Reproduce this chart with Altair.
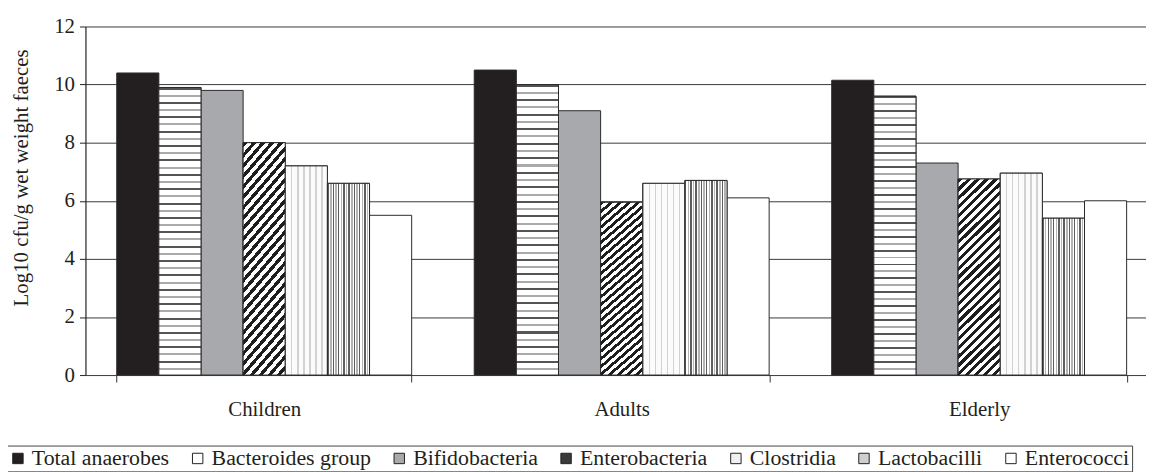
import altair as alt
import pandas as pd

# ---------------- data ----------------
groups = ["Children", "Adults", "Elderly"]
series = ["Total anaerobes", "Bacteroides group", "Bifidobacteria",
          "Enterobacteria", "Clostridia", "Lactobacilli", "Enterococci"]

total_anaerobes = [10.4, 10.5, 10.15]
bacteroides = [9.9, 10.0, 9.6]
bifidobacteria = [9.8, 9.1, 7.3]
enterobacteria = [8.0, 5.95, 6.75]
clostridia = [7.2, 6.6, 6.95]
lactobacilli = [6.6, 6.7, 5.4]
enterococci = [5.5, 6.1, 6.0]

y_ticks = [0, 2, 4, 6, 8, 10, 12]

values = [total_anaerobes, bacteroides, bifidobacteria, enterobacteria,
          clostridia, lactobacilli, enterococci]
legend_colors = ["#231f20", "#ffffff", "#a7a9ac", "#3a3a3a",
                 "#f0f0f0", "#cfcfcf", "#ffffff"]

rows = []
for s, vals in zip(series, values):
    for g, v in zip(groups, vals):
        rows.append({"group": g, "series": s, "value": v})
df = pd.DataFrame(rows)


# ---------------- fill patterns (gradients) ----------------
def stripe_stops(n, pattern):
    stops = []
    for i in range(n):
        for a, b, c in pattern:
            stops.append({"offset": round(min(1.0, (i + a) / n), 5), "color": c})
            stops.append({"offset": round(min(1.0, (i + b) / n), 5), "color": c})
    return stops


# horizontal stripes (Bacteroides)
g_bact = {"gradient": "linear", "x1": 0, "y1": 0, "x2": 0, "y2": 1,
          "stops": stripe_stops(20, [(0.0, 0.14, "#555555"), (0.14, 0.5, "#ffffff"),
                                     (0.5, 0.64, "#aaaaaa"), (0.64, 1.0, "#ffffff")])}
# diagonal hatch (Enterobacteria)
k = 42.4 / 201.0
c = (k + 1) / (k * k + 1)
g_entero = {"gradient": "linear", "x1": 0, "y1": 0, "x2": round(c * k, 4), "y2": round(c, 4),
            "stops": stripe_stops(27, [(0.0, 0.48, "#1e1e1e"), (0.48, 1.0, "#ffffff")])}
# dotted (Clostridia) -> faint vertical dotted columns
g_clos = {"gradient": "linear", "x1": 0, "y1": 0, "x2": 1, "y2": 0,
          "stops": stripe_stops(7, [(0.0, 0.2, "#d2d2d2"), (0.2, 1.0, "#fbfbfb")])}
# vertical stripes (Lactobacilli)
g_lacto = {"gradient": "linear", "x1": 0, "y1": 0, "x2": 1, "y2": 0,
           "stops": stripe_stops(8, [(0.0, 0.28, "#5e5e5e"), (0.28, 0.52, "#ffffff"),
                                     (0.52, 0.78, "#b4b4b4"), (0.78, 1.0, "#ffffff")])}

patterns = {"Bacteroides group": g_bact, "Enterobacteria": g_entero,
            "Clostridia": g_clos, "Lactobacilli": g_lacto}

# ---------------- chart ----------------
FONT = "Liberation Serif"
TXT = "#231f20"
FS = 21
LFS = 22

x_enc = alt.X(
    "group:N", sort=groups,
    scale=alt.Scale(domain=groups, range=[0, 1080], paddingInner=0.175, paddingOuter=0.0875),
    axis=alt.Axis(title=None, domain=False, tickBand="extent", tickSize=7, tickColor="#333",
                  tickWidth=1, labelAngle=0, labelFont=FONT, labelFontSize=FS, labelColor=TXT,
                  labelPadding=17, grid=False),
)
xo_enc = alt.XOffset("series:N", sort=series,
                     scale=alt.Scale(domain=series, paddingInner=0, paddingOuter=0))
y_enc = alt.Y(
    "value:Q", scale=alt.Scale(domain=[0, 12]),
    axis=alt.Axis(title="Log10 cfu/g wet weight faeces", values=y_ticks, grid=True,
                  gridColor="#3a3a3a", gridWidth=1, domainColor="#222", domainWidth=1.2,
                  tickSize=6, tickColor="#222", tickWidth=1, labelFont=FONT, labelFontSize=FS,
                  labelColor=TXT, labelPadding=5, titleFont=FONT, titleFontSize=FS,
                  titleFontWeight="normal", titleColor=TXT, titleAngle=270,
                  titleAlign="center", titleBaseline="middle", titleX=-64, titleY=152),
)

base = alt.Chart(df).encode(x=x_enc, xOffset=xo_enc, y=y_enc)

legend = alt.Legend(title=None, orient="none", legendX=-81, legendY=422,
                    direction="horizontal", columns=7, symbolType="square", symbolSize=110,
                    symbolStrokeColor="#222", symbolStrokeWidth=1, symbolOpacity=1,
                    labelFont=FONT, labelFontSize=LFS, labelColor=TXT, labelOffset=3,
                    labelLimit=400, columnPadding=17, padding=2, strokeColor="#444",
                    fillColor="white")

bars = base.mark_bar(stroke="#2a2a2a", strokeWidth=1, opacity=1).encode(
    color=alt.Color("series:N", sort=series,
                    scale=alt.Scale(domain=series, range=legend_colors), legend=legend)
)

layers = [bars]
for s, grad in patterns.items():
    layers.append(
        base.transform_filter(alt.datum.series == s)
        .mark_bar(fill=grad, stroke="#2a2a2a", strokeWidth=1)
    )

chart = (
    alt.layer(*layers)
    .properties(width=1068, height=351,
                autosize=alt.AutoSizeParams(type="none"),
                padding={"left": 78, "top": 17, "right": 0, "bottom": 96})
    .configure(background="white", font=FONT)
    .configure_view(stroke=None)
    .configure_legend(labelFont=FONT, labelFontSize=LFS)
)

chart.save("out.html", embed_options={"renderer": "svg", "actions": False})
